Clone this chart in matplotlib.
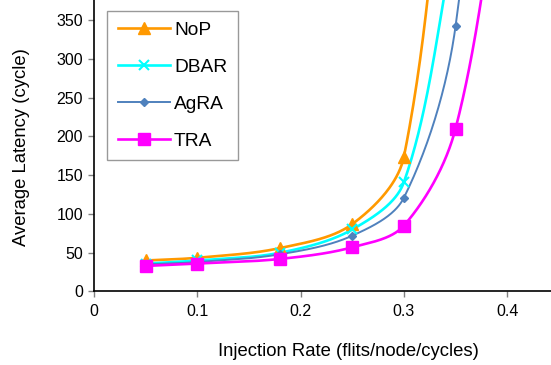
import matplotlib
matplotlib.use('Agg')
import matplotlib.pyplot as plt
import numpy as np

plt.rcParams['font.family'] = ['Liberation Sans', 'DejaVu Sans']

# injection rates (flits/node/cycle)
rate_nop = [0.05, 0.1, 0.18, 0.25, 0.3, 0.35]
lat_nop = [40, 43.5, 56, 87, 174, 750]

rate_dbar = [0.05, 0.1, 0.18, 0.25, 0.3, 0.35]
lat_dbar = [36, 40, 50, 80, 141, 460]

rate_agra = [0.05, 0.1, 0.18, 0.25, 0.3, 0.35, 0.4]
lat_agra = [35, 38, 48, 72, 121, 342, 1100]

rate_tra = [0.05, 0.1, 0.18, 0.25, 0.3, 0.35, 0.4]
lat_tra = [33, 36, 42, 57, 85, 210, 600]

XLIM = (0, 0.4425)
YLIM = (0, 376)


def smooth(xs, ys, n=60):
    # smoothed line like Excel: bezier segments, tangents weighted by
    # segment length measured in screen pixels
    sx, sy = 1032.0, 0.775
    p = np.column_stack([np.array(xs) * sx, np.array(ys) * sy]).astype(float)
    d = np.hypot(*np.diff(p, axis=0).T)
    out = [p[0]]
    for i in range(len(p) - 1):
        if i > 0:
            c1 = p[i] + (p[i + 1] - p[i - 1]) * d[i] / (d[i - 1] + d[i]) / 3
        else:
            c1 = p[i] + (p[i + 1] - p[i]) / 3
        if i + 2 < len(p):
            c2 = p[i + 1] - (p[i + 2] - p[i]) * d[i] / (d[i] + d[i + 1]) / 3
        else:
            c2 = p[i + 1] - (p[i + 1] - p[i]) / 3
        t = np.linspace(0, 1, n)[1:, None]
        seg = ((1 - t) ** 3 * p[i] + 3 * (1 - t) ** 2 * t * c1
               + 3 * (1 - t) * t ** 2 * c2 + t ** 3 * p[i + 1])
        out.extend(seg)
    out = np.array(out)
    return out[:, 0] / sx, out[:, 1] / sy


fig = plt.figure(figsize=(5.51, 3.65), dpi=100)
ax = fig.add_axes([0.1711, 0.2014, 0.8289, 0.7986])

series = [
    ('NoP', rate_nop, lat_nop, '#FF9900', '^', 8, 1.9),
    ('DBAR', rate_dbar, lat_dbar, '#00FFFF', 'x', 7, 1.9),
    ('AgRA', rate_agra, lat_agra, '#4F81BD', 'D', 4.5, 1.4),
    ('TRA', rate_tra, lat_tra, '#FF00FF', 's', 9, 1.9),
]

for name, xs, ys, col, mk, ms, lw in series:
    sx, sy = smooth(xs, ys)
    mew = 1.5 if mk == 'x' else 1
    ax.plot(sx, sy, color=col, lw=lw, zorder=2)
    ax.plot(xs, ys, ls='none', marker=mk, ms=ms, color=col,
            mec=col, mew=mew, zorder=3)
    ax.plot([], [], color=col, lw=lw, marker=mk, ms=ms, mew=mew, label=name)

ax.set_xlim(*XLIM)
ax.set_ylim(*YLIM)
ax.set_xticks([0, 0.1, 0.2, 0.3, 0.4])
ax.set_xticklabels(['0', '0.1', '0.2', '0.3', '0.4'])
ax.set_yticks(range(0, 351, 50))

for s in ['top', 'right']:
    ax.spines[s].set_visible(False)
ax.spines['left'].set_linewidth(1.2)
ax.spines['bottom'].set_linewidth(1.2)
ax.tick_params(direction='out', length=4, width=1, color='#808080',
               labelsize=11.5, pad=4)
ax.tick_params(axis='x', pad=5)

ax.set_xlabel('Injection Rate (flits/node/cycles)', fontsize=13.3)
ax.xaxis.set_label_coords(0.5555, -0.207)
ax.xaxis.label.set_verticalalignment('center')
ax.set_ylabel('Average Latency (cycle)', fontsize=13.3)
ax.yaxis.set_label_coords(-0.16, 0.496)
ax.yaxis.label.set_verticalalignment('center')

leg = ax.legend(loc='upper left', bbox_to_anchor=(0.0278, 0.963),
                borderaxespad=0, fontsize=13.8, frameon=True, fancybox=False,
                edgecolor='#808080', handlelength=2.75, labelspacing=1.02,
                borderpad=0.55, handletextpad=0.2)
leg.get_frame().set_linewidth(1)

fig.savefig('out.png', dpi=100)
